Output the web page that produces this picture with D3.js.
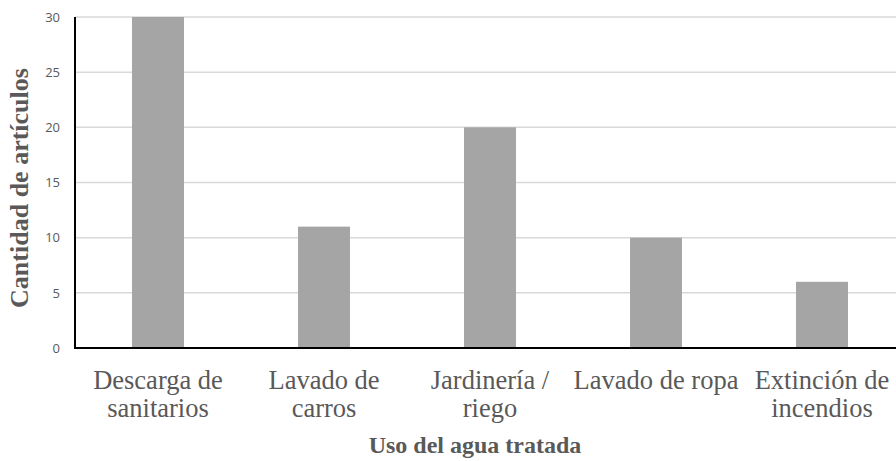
<!DOCTYPE html>
<html>
<head>
<meta charset="utf-8">
<script src="https://cdn.jsdelivr.net/npm/d3@7"></script>
<style>
  html, body { margin: 0; padding: 0; background: #fff; }
  svg { display: block; }
  .serif { font-family: "Liberation Serif", "Times New Roman", serif; }
</style>
</head>
<body>
<svg id="chart" width="896" height="461"></svg>
<script>
// Uso del agua tratada: número de artículos por uso
const categories = [
  ["Descarga de", "sanitarios"],
  ["Lavado de", "carros"],
  ["Jardinería /", "riego"],
  ["Lavado de ropa"],
  ["Extinción de", "incendios"]
];
const values = [30, 11, 20, 10, 6];
const yTicks = [0, 5, 10, 15, 20, 25, 30];
const xTitle = "Uso del agua tratada";
const yTitle = "Cantidad de artículos";

const svg = d3.select("#chart");
const plotLeft = 75, plotRight = 905, plotTop = 17, plotBottom = 348;
const keys = categories.map((c, i) => i);

const x = d3.scaleBand().domain(keys).range([plotLeft, plotRight])
  .paddingInner(0.687).paddingOuter(0.3435);
const y = d3.scaleLinear().domain([0, 30]).range([plotBottom, plotTop]);

// gridlines
svg.append("g").selectAll("line").data(yTicks.filter(t => t > 0)).join("line")
  .attr("x1", plotLeft).attr("x2", 896)
  .attr("y1", d => y(d)).attr("y2", d => y(d))
  .attr("stroke", "#d9d9d9").attr("stroke-width", 1.5);

// bars
svg.append("g").selectAll("rect").data(values).join("rect")
  .attr("x", (d, i) => x(i)).attr("width", x.bandwidth())
  .attr("y", d => y(d)).attr("height", d => y(0) - y(d))
  .attr("fill", "#a5a5a5");

// y tick labels
const yAxis = d3.axisLeft(y).tickValues(yTicks).tickSize(0).tickPadding(15);
const gy = svg.append("g").attr("transform", `translate(${plotLeft},0)`).call(yAxis);
gy.select(".domain").remove();
gy.attr("font-family", "'Open Sans', 'Liberation Sans', sans-serif").attr("font-size", 13);
gy.selectAll("text").attr("fill", "#595959");

// axis lines
svg.append("line").attr("x1", plotLeft).attr("x2", plotLeft).attr("y1", plotTop).attr("y2", plotBottom + 1)
  .attr("stroke", "#000").attr("stroke-width", 2);
svg.append("line").attr("x1", plotLeft - 1).attr("x2", 896).attr("y1", plotBottom).attr("y2", plotBottom)
  .attr("stroke", "#000").attr("stroke-width", 2);

// category labels, centred on each band
const labels = svg.append("g").attr("class", "serif")
  .attr("font-size", 26.5).attr("fill", "#595959").attr("text-anchor", "middle");
labels.selectAll("text").data(keys).join("text")
  .attr("transform", d => `translate(${x(d) + x.bandwidth() / 2},${plotBottom})`)
  .each(function(d) {
    const t = d3.select(this);
    categories[d].forEach((line, j) => {
      t.append("tspan").attr("x", 0).attr("y", 41 + j * 28).text(line);
    });
  });

// axis titles
svg.append("text").attr("class", "serif").attr("x", 475).attr("y", 453)
  .attr("text-anchor", "middle").attr("fill", "#595959")
  .attr("font-size", 24).attr("font-weight", "bold")
  .text(xTitle);
svg.append("text").attr("class", "serif")
  .attr("transform", `translate(28,188) rotate(-90)`)
  .attr("text-anchor", "middle").attr("fill", "#595959")
  .attr("font-size", 26).attr("font-weight", "bold")
  .text(yTitle);
</script>
</body>
</html>
